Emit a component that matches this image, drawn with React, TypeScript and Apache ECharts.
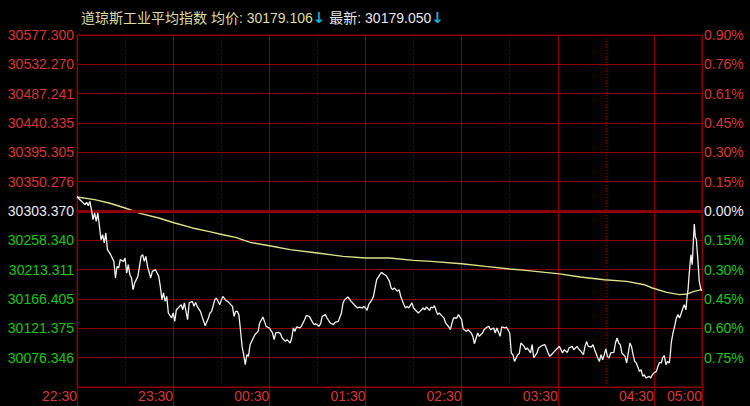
import React, { useEffect, useRef } from "react";
import * as echarts from "echarts";

// ---- data ----
const titleName = "道琼斯工业平均指数";
const avgLabel = "均价";
const avgValue = "30179.106";
const lastLabel = "最新";
const lastValue = "30179.050";

const basePrice = 30303.37;

const leftLabels = ["", "30076.346", "30121.375", "30166.405", "30213.311", "30258.340", "30303.370",
  "30350.276", "30395.305", "30440.335", "30487.241", "30532.270", "30577.300"];
const rightLabels = ["", "0.75%", "0.60%", "0.45%", "0.30%", "0.15%", "0.00%",
  "0.15%", "0.30%", "0.45%", "0.61%", "0.76%", "0.90%"];

const timeTicks = [0, 60, 120, 180, 240, 300, 360, 390];
const timeLabels = ["22:30", "23:30", "00:30", "01:30", "02:30", "03:30", "04:30", "05:00"];

// minutes after 22:30
const priceMinutes = [0,3,5,6,7,8,9,10,11,12,13,14,15,16,17,18,19,21,23,24,25,26,27,29,30,31,32,33,34,35,36,38,39,40,41,42,43,44,46,47,49,51,52,53,54,55,56,57,59,60,61,62,64,65,66,67,69,70,72,73,74,75,77,78,80,82,83,84,86,87,89,90,91,93,94,97,98,99,100,101,102,103,104,105,106,107,108,110,111,113,114,116,117,118,120,122,123,124,126,127,128,130,131,133,134,135,136,137,139,140,142,143,145,147,148,149,151,152,153,155,156,158,160,161,163,165,166,167,169,170,171,173,175,176,178,179,180,181,182,184,185,186,187,189,190,192,193,195,196,197,198,200,201,202,204,205,206,207,209,210,211,213,214,216,217,218,220,221,222,223,225,226,228,229,230,232,233,234,235,237,238,240,241,243,244,246,247,248,250,251,253,254,256,257,258,260,261,262,264,265,267,268,270,271,272,273,275,276,277,279,280,281,283,284,285,287,288,290,292,294,295,297,298,300,301,303,304,306,307,309,310,312,313,314,316,317,318,319,321,322,323,325,326,327,328,329,330,331,332,333,335,336,337,338,339,340,342,343,344,345,346,347,348,349,351,352,353,354,355,357,358,359,360,361.5,362.5,363.5,364.6,365.4,366.5,367.5,368.5,369.6,370.2,370.8,371.9,372.9,374,375,376,377.1,378.1,378.9,380,380.6,381.3,381.9,382.5,383.1,383.9,384.6,385.2,385.8,386.5,387.1,387.7,388.3,389.1,389.8];
const priceValues = [30325.2,30318.3,30313.2,30316.8,30311.6,30318.3,30305.4,30289.8,30300.3,30287.2,30300.3,30279.4,30258.7,30266.5,30253.6,30269.2,30243.2,30235.4,30225.0,30199.2,30217.2,30214.7,30227.6,30225.0,30230.3,30206.9,30219.9,30204.3,30199.2,30181.0,30191.4,30201.7,30217.2,30232.8,30235.4,30225.0,30232.8,30217.2,30199.2,30209.4,30212.1,30201.7,30186.1,30165.4,30175.8,30162.8,30170.5,30144.7,30136.9,30144.7,30131.6,30149.8,30155.0,30157.6,30149.8,30160.3,30134.3,30160.3,30162.8,30155.0,30161.2,30155.0,30147.2,30139.4,30124.9,30136.9,30144.7,30147.2,30165.4,30168.0,30157.6,30164.3,30170.5,30163.8,30162.8,30155.0,30139.4,30147.2,30147.2,30142.1,30118.7,30092.7,30079.8,30064.3,30079.8,30077.2,30095.4,30105.8,30110.9,30116.1,30129.2,30138.5,30131.6,30123.9,30121.4,30113.6,30103.2,30113.6,30114.5,30112.5,30105.8,30100.5,30103.2,30098.0,30105.8,30121.4,30116.1,30122.9,30121.4,30123.9,30134.3,30140.5,30139.4,30130.1,30126.5,30128.1,30123.9,30128.1,30139.4,30142.1,30136.9,30129.2,30126.5,30130.1,30131.6,30144.7,30160.3,30165.4,30169.6,30166.5,30162.8,30157.6,30152.5,30154.0,30152.5,30155.0,30152.5,30148.8,30157.6,30165.4,30170.5,30183.6,30196.5,30204.3,30207.9,30204.3,30202.7,30193.9,30183.6,30181.0,30183.6,30178.3,30181.0,30170.5,30157.6,30152.5,30155.0,30152.5,30160.3,30152.5,30149.8,30144.7,30147.2,30152.5,30149.8,30154.0,30148.8,30154.0,30152.5,30156.1,30142.1,30144.7,30139.4,30136.9,30129.2,30122.9,30118.7,30129.2,30136.9,30136.9,30142.1,30134.3,30119.8,30116.1,30118.7,30113.6,30108.3,30096.9,30113.6,30108.3,30113.6,30118.7,30122.9,30123.9,30118.7,30121.4,30113.6,30121.4,30108.3,30122.9,30121.4,30122.9,30113.6,30082.5,30079.8,30069.4,30079.8,30081.4,30098.0,30092.7,30087.6,30090.3,30082.5,30095.4,30074.7,30082.5,30090.3,30093.8,30095.4,30082.5,30077.2,30082.5,30085.0,30090.3,30092.7,30082.5,30087.6,30083.4,30090.3,30092.7,30087.6,30092.7,30088.7,30086.5,30079.8,30092.7,30100.5,30092.7,30091.8,30095.4,30087.6,30074.7,30069.4,30079.8,30072.0,30079.8,30088.7,30077.2,30074.7,30082.5,30083.4,30098.0,30105.8,30098.0,30095.4,30082.5,30077.2,30066.9,30082.5,30098.0,30092.7,30079.8,30069.4,30066.9,30053.8,30056.5,30046.1,30048.7,30043.6,30046.1,30043.6,30048.7,30051.4,30053.8,30061.6,30067.9,30066.9,30074.7,30078.3,30064.3,30069.4,30066.9,30079.8,30098.0,30113.6,30123.9,30136.9,30142.1,30136.9,30144.7,30152.5,30157.6,30149.8,30168.0,30181.0,30201.7,30219.8,30235.4,30219.8,30256.1,30282.9,30263.9,30258.7,30238.1,30217.2,30193.9,30183.6,30179.1];

const avgMinutes = [0,11,20,30,40,51,61,72,82,91,99,108,120,133,150,166,180,195,210,221,240,255,270,280,292,300,314,329,343,354,359,368,376,381,385,389.8];
const avgValues = [30325.2,30321.0,30315.8,30308.0,30299.2,30292.5,30284.7,30277.0,30271.7,30266.5,30262.3,30254.5,30249.4,30243.2,30238.1,30232.8,30230.3,30230.3,30226.5,30225.0,30221.4,30217.2,30213.2,30211.0,30207.9,30205.9,30200.7,30196.5,30193.9,30188.7,30183.6,30176.8,30173.2,30174.3,30178.3,30181.0];

// ---- styles ----
const GRID_RED = "#8c0000";
const LABEL_RED = "#dc3232";
const LABEL_GREEN = "#14c814";
const LABEL_WHITE = "#e6e6f0";
const FONT = "'Liberation Sans', Arial, 'Noto Sans CJK SC', sans-serif";

const STEP = basePrice / 664;
const Y_MIN = STEP * 658;
const Y_MAX = STEP * 670;

function rowIndex(v: number) {
  return Math.round((v - Y_MIN) / STEP);
}
function richLabel(labels: string[]) {
  return (v: number) => {
    const i = rowIndex(v);
    const t = labels[i] ?? "";
    if (!t) return "";
    const k = i > 6 ? "r" : i === 6 ? "w" : "g";
    return `{${k}|${t}}`;
  };
}
const rich = {
  r: { color: LABEL_RED, fontSize: 14, fontFamily: FONT },
  w: { color: LABEL_WHITE, fontSize: 14, fontFamily: FONT },
  g: { color: LABEL_GREEN, fontSize: 14, fontFamily: FONT },
};

export default function App() {
  const ref = useRef<HTMLDivElement>(null);
  useEffect(() => {
    if (!ref.current) return;
    const chart = echarts.init(ref.current, undefined, { renderer: "svg" });
    const priceData = priceMinutes.map((m, i) => [m, priceValues[i]]);
    const avgData = avgMinutes.map((m, i) => [m, avgValues[i]]);
    chart.setOption({
      animation: false,
      backgroundColor: "#000000",
      title: {
        left: 76,
        top: 5,
        text: `{a|${titleName} ${avgLabel}: ${avgValue}}{d|↓}{b| ${lastLabel}: ${lastValue}}{d|↓}`,
        textStyle: {
          fontSize: 14,
          fontFamily: FONT,
          fontWeight: "normal",
          rich: {
            a: { color: "#dcdca0", fontSize: 14, fontFamily: FONT },
            b: { color: LABEL_WHITE, fontSize: 14, fontFamily: FONT },
            d: { color: "#1ea8d0", fontSize: 15, fontWeight: "bold", fontFamily: "'DejaVu Sans', sans-serif" },
          },
        },
      },
      grid: {
        left: 77,
        top: 35,
        width: 625,
        height: 352,
        show: true,
        borderColor: GRID_RED,
        borderWidth: 1,
        backgroundColor: "transparent",
      },
      xAxis: [
        {
          type: "value",
          min: 0,
          max: 390,
          interval: 60,
          position: "bottom",
          axisLine: { show: false },
          axisTick: { show: true, length: 19, lineStyle: { color: GRID_RED, width: 1 } },
          splitLine: { show: true, lineStyle: { color: GRID_RED, width: 1, type: "solid" } },
          axisLabel: {
            show: true,
            margin: 2,
            align: "right",
            color: LABEL_RED,
            fontSize: 14,
            fontFamily: FONT,
            showMinLabel: true,
            showMaxLabel: true,
            hideOverlap: false,
            formatter: (v: number) => {
              const i = timeTicks.indexOf(Math.round(v));
              return i >= 0 ? timeLabels[i] : "";
            },
          },
          z: 3,
        },
        {
          type: "value",
          min: 0,
          max: 390,
          interval: 30,
          position: "bottom",
          axisLine: { show: false },
          axisTick: { show: false },
          axisLabel: { show: false },
          splitLine: { show: true, lineStyle: { color: GRID_RED, width: 1, type: [1, 2] } },
          z: 1,
        },
      ],
      yAxis: [
        {
          type: "value",
          min: Y_MIN,
          max: Y_MAX,
          interval: STEP,
          position: "left",
          axisLine: { show: false },
          axisTick: { show: false },
          splitLine: { show: true, lineStyle: { color: GRID_RED, width: 1 } },
          axisLabel: {
            margin: 3,
            formatter: richLabel(leftLabels),
            rich,
            showMinLabel: true,
            showMaxLabel: true,
          },
        },
        {
          type: "value",
          min: Y_MIN,
          max: Y_MAX,
          interval: STEP,
          position: "right",
          axisLine: { show: false },
          axisTick: { show: false },
          splitLine: { show: false },
          axisLabel: {
            margin: 2,
            formatter: richLabel(rightLabels),
            rich,
            showMinLabel: true,
            showMaxLabel: true,
          },
        },
      ],
      series: [
        {
          name: "均价",
          type: "line",
          xAxisIndex: 0,
          yAxisIndex: 0,
          data: avgData,
          symbol: "none",
          silent: true,
          lineStyle: { color: "#e0e088", width: 1.4 },
          markLine: {
            silent: true,
            symbol: ["none", "none"],
            label: { show: false },
            lineStyle: { color: "#8c0000", width: 3, type: "solid" },
            data: [{ yAxis: basePrice }],
          },
          z: 4,
        },
        {
          name: "最新",
          type: "line",
          xAxisIndex: 0,
          yAxisIndex: 0,
          data: priceData,
          symbol: "none",
          silent: true,
          lineStyle: { color: "#f2f2f2", width: 1.3 },
          z: 5,
        },
      ],
    });
    return () => chart.dispose();
  }, []);
  return (
    <div
      ref={ref}
      style={{ position: "fixed", left: 0, top: 0, width: 750, height: 406, background: "#000" }}
    />
  );
}
